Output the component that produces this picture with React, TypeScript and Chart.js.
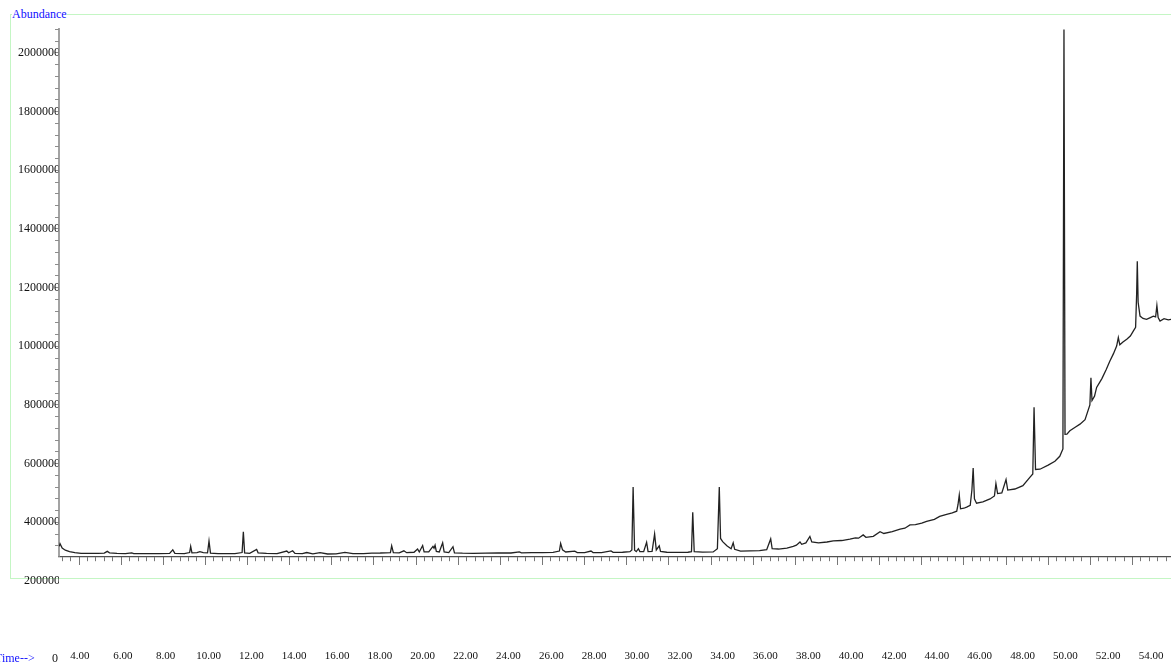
import { useEffect, useRef } from "react";
import { Chart, registerables } from "chart.js";

Chart.register(...registerables);

// Retention time (min) and abundance
const retentionTime = [
  3.06, 3.1, 3.2, 3.35, 3.55, 3.8, 4.1, 4.5, 4.9, 5.2, 5.34, 5.45, 5.8, 6.2, 6.5, 6.6, 7.0, 7.4, 7.8, 8.3,
  8.45, 8.55, 9.0, 9.25, 9.3, 9.36, 9.6, 9.74, 9.9, 10.1, 10.17, 10.24, 10.6, 11.0, 11.4, 11.74, 11.8, 11.86,
  12.1, 12.43, 12.5, 12.9, 13.4, 13.86, 13.95, 14.14, 14.25, 14.6, 14.81, 15.1, 15.44, 15.8, 16.2, 16.62,
  17.0, 17.5, 17.9, 18.3, 18.78, 18.84, 18.92, 19.2, 19.42, 19.55, 19.9, 20.07, 20.15, 20.31, 20.38, 20.6,
  20.8, 20.85, 20.9, 20.96, 21.1, 21.26, 21.33, 21.55, 21.75, 21.82, 22.2, 22.7, 23.3, 23.9, 24.5, 24.9,
  25.0, 25.5, 26.0, 26.5, 26.8, 26.86, 26.95, 27.1, 27.53, 27.65, 28.0, 28.3, 28.4, 28.8, 29.25, 29.35,
  29.8, 30.15, 30.24, 30.3, 30.37, 30.45, 30.55, 30.62, 30.8, 30.94, 31.01, 31.2, 31.32, 31.4, 31.54, 31.6,
  31.9, 32.4, 32.9, 33.07, 33.13, 33.2, 33.6, 34.1, 34.3, 34.39, 34.45, 34.55, 34.75, 34.95, 35.05, 35.12,
  35.4, 35.85, 36.3, 36.64, 36.83, 36.9, 37.2, 37.6, 37.9, 38.05, 38.22, 38.3, 38.5, 38.69, 38.78, 39.1,
  39.5, 39.8, 40.2, 40.59, 40.85, 41.0, 41.22, 41.35, 41.7, 42.02, 42.2, 42.6, 42.97, 43.2, 43.44, 43.7,
  44.0, 44.23, 44.6, 44.85, 45.18, 45.45, 45.66, 45.72, 45.78, 45.84, 46.0, 46.13, 46.3, 46.38, 46.44,
  46.5, 46.6, 46.9, 47.24, 47.45, 47.52, 47.6, 47.8, 48.0, 48.08, 48.42, 48.8, 49.14, 49.27, 49.33, 49.4,
  49.61, 50.0, 50.32, 50.55, 50.7, 50.75, 50.8, 50.89, 51.03, 51.3, 51.51, 51.75, 51.98, 52.03, 52.08,
  52.2, 52.3, 52.55, 52.75, 52.93, 53.1, 53.25, 53.33, 53.4, 53.55, 53.73, 53.9, 54.04, 54.15, 54.2,
  54.23, 54.27, 54.36, 54.5, 54.67, 54.85, 54.99, 55.1, 55.16, 55.22, 55.31, 55.5, 55.7, 55.84,
];

const abundance = [
  318000, 327000, 312000, 305000, 300000, 296500, 294500, 294000, 294500, 295000, 301000, 296000, 294000,
  293500, 296000, 293500, 293000, 293500, 293000, 294000, 306000, 294000, 293500, 297000, 318000, 296000,
  296500, 300000, 297000, 296000, 336000, 295000, 293500, 293000, 293500, 297000, 368000, 296000, 294000,
  308000, 296000, 294000, 293500, 302000, 296000, 303000, 294000, 293000, 297000, 292500, 297000, 292000,
  292500, 297500, 293000, 293500, 295000, 295500, 297000, 320000, 297000, 296000, 303000, 296500, 298000,
  309000, 299000, 321000, 299000, 299000, 318000, 312000, 322000, 301000, 299000, 330000, 299000, 297000,
  317000, 296000, 295000, 294500, 295000, 295500, 295500, 299000, 296000, 296500, 297000, 297500, 302000,
  328000, 306000, 299000, 302000, 297000, 296500, 302000, 297000, 297000, 302500, 297500, 298000, 300000,
  306000, 520000, 305000, 300000, 310000, 300000, 300000, 332000, 300000, 301000, 360000, 306000, 320000,
  301000, 298000, 297500, 298000, 300000, 434000, 300000, 298500, 299000, 310000, 520000, 345000, 334000,
  320000, 310000, 330000, 308000, 302000, 302700, 303500, 307000, 343500, 310000, 309000, 312000, 318000,
  322000, 333000, 325000, 330000, 352000, 333000, 330000, 333000, 337000, 338000, 343000, 347000, 346000,
  357000, 349000, 352000, 368000, 362000, 368000, 377000, 380000, 391000, 392000, 397000, 403000, 410000,
  420000, 427000, 432000, 438000, 460000, 493000, 446000, 448000, 452000, 458000, 510000, 585000, 480000,
  465000, 470000, 479600, 490000, 532000, 498000, 500000, 546000, 510000, 513600, 525000, 554000, 565000,
  792000, 580000, 581000, 595000, 608000, 625000, 650000, 2080000, 700000, 700700, 712000, 725000, 734700,
  750000, 800000, 893000, 815000, 830000, 860000, 890000, 920000, 950000, 975000, 1001000, 1030000,
  1005000, 1015000, 1024000, 1035000, 1052000, 1065000, 1180000, 1290000, 1150000, 1103000, 1095000,
  1091800, 1098000, 1103000, 1100000, 1139000, 1098000, 1086000, 1094000, 1090000, 1092000,
];

const xLabelValues = [4, 6, 8, 10, 12, 14, 16, 18, 20, 22, 24, 26, 28, 30, 32, 34, 36, 38, 40, 42, 44, 46, 48, 50, 52, 54];
const xLabelTexts = [
  "4.00", "6.00", "8.00", "10.00", "12.00", "14.00", "16.00", "18.00", "20.00", "22.00", "24.00", "26.00", "28.00",
  "30.00", "32.00", "34.00", "36.00", "38.00", "40.00", "42.00", "44.00", "46.00", "48.00", "50.00", "52.00", "54.00",
];
const yLabelValues = [200000, 400000, 600000, 800000, 1000000, 1200000, 1400000, 1600000, 1800000, 2000000];
const yLabelTexts = ["200000", "400000", "600000", "800000", "1000000", "1200000", "1400000", "1600000", "1800000", "2000000"];

const X_MIN = 3.05;
const X_MAX = 55.83;
const X_MINOR_STEP = 0.4;
const X_MAJOR_STEP = 2;
const Y_MIN = 200000;
const Y_MAX = 2085000;
const Y_MINOR_STEP = 40000;
const AXIS_BASE = 282000; // abundance where the time axis is drawn

const FONT = "'Liberation Serif', 'Times New Roman', serif";

const yAxisLine = {
  id: "yAxisLine",
  beforeDatasetsDraw(chart: any) {
    const { ctx, chartArea, scales } = chart;
    const yb = scales.y.getPixelForValue(AXIS_BASE);
    ctx.save();
    ctx.strokeStyle = "#8c8c8c";
    ctx.lineWidth = 1.6;
    ctx.beginPath();
    ctx.moveTo(chartArea.left, chartArea.top);
    ctx.lineTo(chartArea.left, yb);
    ctx.stroke();
    ctx.restore();
  },
};

function stepTicks(min: number, max: number, step: number) {
  const out: { value: number }[] = [];
  const start = Math.ceil(min / step - 1e-9);
  const end = Math.floor(max / step + 1e-9);
  for (let k = start; k <= end; k++) out.push({ value: Math.round(k * step * 1000) / 1000 });
  return out;
}

export default function App() {
  const ref = useRef<HTMLCanvasElement | null>(null);

  useEffect(() => {
    if (!ref.current) return;
    const points = retentionTime.map((t, i) => ({ x: t, y: abundance[i] }));
    const chart = new Chart(ref.current, {
      type: "line",
      data: {
        datasets: [
          {
            data: points,
            borderColor: "#222",
            borderWidth: 1.3,
            pointRadius: 0,
            tension: 0,
            xAxisID: "x",
            yAxisID: "y",
          },
        ],
      },
      plugins: [yAxisLine],
      options: {
        animation: false,
        responsive: false,
        parsing: false as any,
        layout: { padding: { top: 28, left: 0, right: 0, bottom: 3.4 } },
        plugins: { legend: { display: false }, tooltip: { enabled: false }, title: { display: false } },
        scales: {
          y: {
            type: "linear",
            position: "left",
            min: Y_MIN,
            max: Y_MAX,
            afterFit: (s: any) => {
              s.width = 59;
            },
            afterBuildTicks: (s: any) => {
              s.ticks = stepTicks(Y_MIN, Y_MAX, Y_MINOR_STEP);
            },
            border: { display: false },
            grid: {
              drawOnChartArea: false,
              drawTicks: true,
              tickLength: 4,
              tickColor: (c: any) => (c.tick && c.tick.value < AXIS_BASE ? "rgba(0,0,0,0)" : "#8c8c8c"),
            },
            ticks: {
              autoSkip: false,
              padding: -5,
              color: "#111",
              font: { family: FONT, size: 12 },
              callback: (v: any) => {
                const i = yLabelValues.indexOf(Math.round(Number(v)));
                return i >= 0 ? yLabelTexts[i] : "";
              },
            },
          },
          x: {
            type: "linear",
            position: { y: AXIS_BASE } as any,
            min: X_MIN,
            max: X_MAX,
            afterBuildTicks: (s: any) => {
              s.ticks = stepTicks(X_MIN, X_MAX, X_MINOR_STEP);
            },
            border: { display: true, color: "#505050", width: 1.2 },
            grid: { drawOnChartArea: false, drawTicks: true, tickLength: 4, tickColor: "#777" },
            ticks: { autoSkip: false, display: false },
          },
          x2: {
            type: "linear",
            position: { y: AXIS_BASE } as any,
            min: X_MIN,
            max: X_MAX,
            afterBuildTicks: (s: any) => {
              s.ticks = stepTicks(X_MIN, X_MAX, X_MAJOR_STEP);
            },
            border: { display: false },
            grid: { drawOnChartArea: false, drawTicks: true, tickLength: 8, tickColor: "#777" },
            ticks: { autoSkip: false, display: false },
          },
          xl: {
            type: "linear",
            position: "bottom",
            min: 3.02,
            max: 54.93,
            border: { display: false },
            grid: { display: false, drawTicks: true, tickLength: 68.4 },
            afterBuildTicks: (s: any) => {
              s.ticks = xLabelValues.map((v) => ({ value: v }));
            },
            ticks: {
              autoSkip: false,
              maxRotation: 0,
              padding: 0,
              color: "#111",
              font: { family: FONT, size: 11 },
              callback: (_v: any, i: number) => xLabelTexts[i],
            },
          },
        },
      },
    });
    return () => chart.destroy();
  }, []);

  return (
    <div style={{ position: "fixed", left: 0, top: 0, width: 1171, height: 666, background: "#fff", overflow: "hidden" }}>
      <div
        style={{
          position: "absolute",
          left: 10,
          top: 14,
          width: 1200,
          height: 565,
          border: "1px solid rgb(196,246,196)",
          boxSizing: "border-box",
        }}
      />
      <canvas ref={ref} width={1171} height={666} style={{ position: "absolute", left: 0, top: 0, display: "block" }} />
      <span
        style={{
          position: "absolute",
          left: 12,
          top: 7,
          fontFamily: FONT,
          fontSize: 12,
          lineHeight: "14px",
          color: "#1010ff",
          background: "#fff",
        }}
      >
        Abundance
      </span>
      <span style={{ position: "absolute", left: -5, top: 651, fontFamily: FONT, fontSize: 12, lineHeight: "14px", color: "#1010ff" }}>
        Time--&gt;
      </span>
      <span style={{ position: "absolute", left: 52, top: 651, fontFamily: FONT, fontSize: 12, lineHeight: "14px", color: "#111" }}>
        0
      </span>
    </div>
  );
}
